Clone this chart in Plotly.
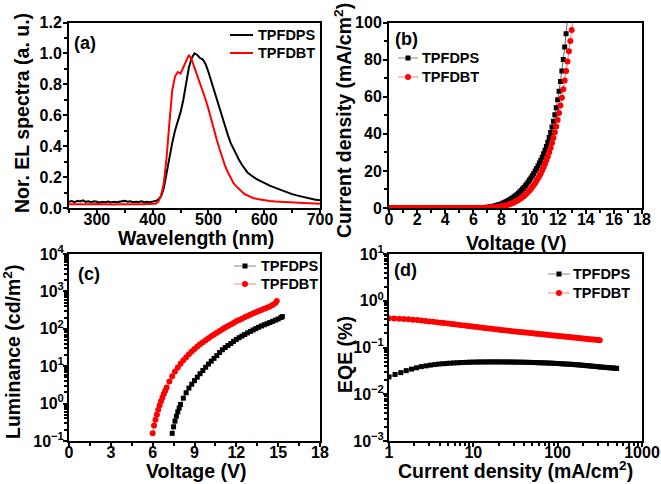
import plotly.graph_objects as go

# ---------------- (a) EL spectra ----------------
wl_dps = [250,255,260,265,270,275,280,285,290,295,300,305,310,315,320,325,330,335,340,345,350,355,360,365,370,375,380,385,390,395,400,405,410,415,420,425,430,435,440,445,450,455,460,465,470,475,480,485,490,495,500,505,510,515,520,525,530,535,540,545,550,555,560,565,570,575,580,585,590,595,600,610,620,630,640,650,660,670,680,690,700]
el_dps = [0.040,0.045,0.038,0.046,0.042,0.050,0.040,0.044,0.037,0.043,0.040,0.036,0.041,0.038,0.042,0.036,0.040,0.037,0.041,0.044,0.046,0.040,0.043,0.038,0.041,0.039,0.044,0.037,0.041,0.038,0.042,0.045,0.055,0.075,0.13,0.23,0.34,0.42,0.50,0.56,0.62,0.70,0.80,0.91,0.97,1.00,0.99,0.97,0.96,0.93,0.88,0.82,0.76,0.70,0.64,0.58,0.52,0.47,0.42,0.38,0.34,0.31,0.28,0.255,0.23,0.215,0.20,0.19,0.18,0.17,0.16,0.145,0.13,0.115,0.10,0.09,0.08,0.07,0.062,0.055,0.05]
wl_dbt = [250,260,270,280,290,300,310,320,330,340,350,360,370,380,390,400,405,410,415,420,425,430,435,440,445,450,455,460,465,470,475,480,485,490,495,500,505,510,515,520,525,530,535,540,545,550,555,560,565,570,575,580,590,600,610,620,640,660,680,700]
el_dbt = [0.025,0.024,0.026,0.023,0.025,0.026,0.024,0.025,0.023,0.025,0.026,0.024,0.025,0.024,0.026,0.025,0.028,0.04,0.08,0.16,0.33,0.55,0.76,0.85,0.88,0.87,0.91,0.95,0.99,0.96,0.91,0.86,0.81,0.76,0.70,0.64,0.57,0.50,0.44,0.38,0.32,0.27,0.23,0.19,0.16,0.14,0.12,0.105,0.09,0.08,0.072,0.065,0.057,0.05,0.045,0.042,0.037,0.034,0.031,0.028]

# ---------------- (b) J-V ----------------
v_b_dps = [0.0,0.2,0.4,0.6,0.8,1.0,1.2,1.4,1.6,1.8,2.0,2.2,2.4,2.6,2.8,3.0,3.2,3.4,3.6,3.8,4.0,4.2,4.4,4.6,4.8,5.0,5.2,5.4,5.6,5.8,6.0,6.2,6.4,6.6,6.8,
           7.0,7.1,7.2,7.3,7.4,7.5,7.6,7.7,7.8,7.9,8.0,8.1,8.2,8.3,8.4,8.5,8.6,8.7,8.8,8.9,9.0,9.1,9.2,9.3,9.4,9.5,9.6,9.7,9.8,9.9,
           10.0,10.1,10.2,10.3,10.4,10.5,10.6,10.7,10.8,10.9,11.0,11.1,11.2,11.3,11.4,11.5,11.6,11.7,11.8,11.9,12.0,12.1,12.2,12.3,12.4,12.5,12.6,12.7]
j_b_dps = [0.02,0.02,0.02,0.02,0.02,0.02,0.02,0.02,0.02,0.02,0.02,0.02,0.02,0.02,0.02,0.02,0.02,0.02,0.02,0.02,0.02,0.02,0.02,0.02,0.02,0.03,0.04,0.05,0.06,0.08,0.10,0.13,0.17,0.22,0.29,
           0.38,0.47,0.58,0.71,0.86,1.03,1.22,1.43,1.66,1.92,2.2,2.5,2.85,3.2,3.6,4.0,4.45,4.95,5.45,6.0,6.6,7.2,7.9,8.6,9.4,10.2,11.1,12.0,13.0,14.0,
           15.1,16.2,17.4,18.6,19.9,21.3,22.7,24.2,25.8,27.4,29.2,31.1,33.2,35.5,38.0,40.7,43.6,46.8,50.3,54.1,58.3,63.0,68.2,73.9,80.1,86.8,94.0,101.7]
v_b_dbt = [0.0,0.2,0.4,0.6,0.8,1.0,1.2,1.4,1.6,1.8,2.0,2.2,2.4,2.6,2.8,3.0,3.2,3.4,3.6,3.8,4.0,4.2,4.4,4.6,4.8,5.0,5.2,5.4,5.6,5.8,6.0,6.2,6.4,6.6,6.8,
           7.0,7.1,7.2,7.3,7.4,7.5,7.6,7.7,7.8,7.9,8.0,8.1,8.2,8.3,8.4,8.5,8.6,8.7,8.8,8.9,9.0,9.1,9.2,9.3,9.4,9.5,9.6,9.7,9.8,9.9,
           10.0,10.1,10.2,10.3,10.4,10.5,10.6,10.7,10.8,10.9,11.0,11.1,11.2,11.3,11.4,11.5,11.6,11.7,11.8,11.9,12.0,12.1,12.2,12.3,12.4,12.5,12.6,12.7,12.8,12.9,13.0,13.1]
j_b_dbt = [0.01,0.01,0.01,0.01,0.01,0.01,0.01,0.01,0.01,0.01,0.01,0.01,0.01,0.01,0.01,0.01,0.01,0.01,0.01,0.01,0.01,0.01,0.01,0.01,0.01,0.015,0.02,0.025,0.03,0.04,0.05,0.06,0.08,0.10,0.12,
           0.15,0.19,0.23,0.28,0.34,0.4,0.48,0.57,0.67,0.78,0.9,1.05,1.2,1.4,1.6,1.85,2.1,2.4,2.7,3.05,3.45,3.85,4.3,4.8,5.3,5.9,6.5,7.2,7.9,8.7,
           9.5,10.4,11.4,12.4,13.5,14.7,16.0,17.3,18.8,20.3,22.0,23.8,25.7,27.8,30.0,32.4,35.0,37.8,40.8,44.0,47.4,51.2,55.2,59.5,64.0,68.7,73.8,79.0,84.5,90.0,96.0,102.0]

# ---------------- (c) L-V ----------------
v_c_dps = [7.4,7.5,7.6,7.7,7.8,7.9,8.0,8.2,8.4,8.6,8.8,9.0,9.2,9.4,9.6,9.8,10.0,10.2,10.4,10.6,10.8,11.0,11.2,11.4,11.6,11.8,12.0,12.2,12.4,12.6,12.8,13.0,13.2,13.4,13.6,13.8,14.0,14.2,14.4,14.6,14.8,15.0,15.2,15.3]
l_c_dps = [0.16,0.24,0.34,0.46,0.6,0.76,0.95,1.4,1.95,2.6,3.3,4.1,5.1,6.3,7.7,9.4,11.4,13.6,16.2,19.2,23.2,27.5,31.5,35.8,40.5,46.0,52,58,64,70.5,77.5,85,93,101,110,119,128,137,147,158,170,183,200,212]
v_c_dbt = [6.0,6.1,6.2,6.3,6.4,6.5,6.6,6.7,6.8,6.9,7.0,7.2,7.4,7.6,7.8,8.0,8.2,8.4,8.6,8.8,9.0,9.2,9.4,9.6,9.8,10.0,10.2,10.4,10.6,10.8,11.0,11.2,11.4,11.6,11.8,12.0,12.2,12.4,12.6,12.8,13.0,13.2,13.4,13.6,13.8,14.0,14.2,14.4,14.6,14.8,14.9]
l_c_dbt = [0.16,0.26,0.37,0.5,0.68,0.9,1.15,1.45,1.8,2.2,2.7,3.9,5.4,7.2,9.3,11.7,14.4,17.4,20.8,24.6,28.8,33.4,38.4,43.8,49.6,56,63,70.5,79,88,98,108,119,131,144,158,172,187,203,220,238,257,277,298,320,343,368,395,430,490,550]

# ---------------- (d) EQE-J ----------------
j_d_dps = [1.0,1.18,1.38,1.6,1.85,2.12,2.42,2.75,3.1,3.5,3.9,4.35,4.8,5.3,5.85,6.4,7.0,7.6,8.3,9.0,
           9.8,10.6,11.5,12.4,13.4,14.5,15.6,16.8,18.1,19.5,21,22.6,24.3,26.1,28,30,32.2,34.5,37,39.6,
           42.4,45.4,48.6,52,55.6,59.4,63.5,67.8,72.4,77.3,82.5,88,94,100,107,114,121,129,137,146,
           155,165,175,186,197,209,222,235,249,264,280,296,313,331,350,370,391,413,436,460,485,500]
eqe_d_dps = [0.0235,0.0265,0.029,0.032,0.0345,0.0368,0.039,0.0405,0.042,0.0432,0.0442,0.045,0.0456,0.0462,0.0467,0.0471,0.0475,0.0478,0.0481,0.0484,
             0.0486,0.0488,0.0489,0.049,0.0491,0.0491,0.0492,0.0492,0.0492,0.0492,0.0491,0.0491,0.049,0.049,0.0489,0.0488,0.0487,0.0486,0.0485,0.0484,
             0.0482,0.0481,0.0479,0.0477,0.0475,0.0473,0.0471,0.0469,0.0467,0.0465,0.0463,0.046,0.0457,0.0454,0.0451,0.0448,0.0445,0.0442,0.0439,0.0436,
             0.0432,0.0428,0.0425,0.0421,0.0417,0.0413,0.0409,0.0405,0.0401,0.0397,0.0393,0.0389,0.0385,0.0381,0.0378,0.0375,0.0372,0.0369,0.0366,0.0363,0.036,0.0358]
j_d_dbt = [1.0,1.15,1.32,1.5,1.7,1.92,2.16,2.42,2.7,3.0,3.35,3.7,4.1,4.5,5.0,5.5,6.0,6.6,7.2,7.9,
           8.6,9.4,10.2,11.1,12.1,13.1,14.2,15.4,16.7,18.1,19.6,21.2,22.9,24.7,26.7,28.8,31,33.4,36,38.7,
           41.6,44.7,48,51.5,55.3,59.3,63.6,68.2,73.1,78.3,83.9,89.8,96,103,110,118,126,135,144,154,
           164,175,187,199,212,226,240,255,270,286,302,316]
eqe_d_dbt = [0.420,0.418,0.414,0.408,0.401,0.394,0.386,0.378,0.370,0.362,0.354,0.347,0.340,0.333,0.326,0.319,0.313,0.307,0.301,0.295,
             0.290,0.284,0.279,0.274,0.269,0.264,0.259,0.255,0.251,0.246,0.242,0.238,0.234,0.231,0.227,0.224,0.221,0.218,0.215,0.212,
             0.209,0.206,0.204,0.201,0.198,0.196,0.193,0.191,0.188,0.186,0.1835,0.181,0.179,0.1766,0.1744,0.1722,0.170,0.1678,0.1658,0.1637,
             0.1618,0.1599,0.1579,0.1561,0.1543,0.1524,0.1507,0.149,0.1474,0.1459,0.1444,0.1431]

names = ["TPFDPS", "TPFDBT"]

FONT = "Liberation Sans, Arial, sans-serif"
W, H = 661, 484

def px(x):
    return x / W

def py(y):
    return 1 - y / H

fig = go.Figure()

fig.add_trace(go.Scatter(x=wl_dps, y=el_dps, mode="lines", name=names[0],
                         line=dict(color="black", width=2), xaxis="x", yaxis="y"))
fig.add_trace(go.Scatter(x=wl_dbt, y=el_dbt, mode="lines", name=names[1],
                         line=dict(color="#ff0000", width=2), xaxis="x", yaxis="y"))

blk_m = dict(symbol="square", size=5, color="black")
red_m = dict(symbol="circle", size=6, color="#ff0000")
blk_l = dict(color="#666666", width=1)
red_l = dict(color="#ff7070", width=1)

fig.add_trace(go.Scatter(x=v_b_dps, y=j_b_dps, mode="lines+markers", name=names[0], marker=blk_m, line=blk_l,
                         xaxis="x2", yaxis="y2"))
fig.add_trace(go.Scatter(x=v_b_dbt, y=j_b_dbt, mode="lines+markers", name=names[1], marker=red_m, line=red_l,
                         xaxis="x2", yaxis="y2"))
fig.add_trace(go.Scatter(x=v_c_dps, y=l_c_dps, mode="lines+markers", name=names[0], marker=blk_m, line=blk_l,
                         xaxis="x3", yaxis="y3"))
fig.add_trace(go.Scatter(x=v_c_dbt, y=l_c_dbt, mode="lines+markers", name=names[1], marker=red_m, line=red_l,
                         xaxis="x3", yaxis="y3"))
fig.add_trace(go.Scatter(x=j_d_dps, y=eqe_d_dps, mode="lines+markers", name=names[0], marker=blk_m, line=blk_l,
                         xaxis="x4", yaxis="y4"))
fig.add_trace(go.Scatter(x=j_d_dbt, y=eqe_d_dbt, mode="lines+markers", name=names[1], marker=red_m, line=red_l,
                         xaxis="x4", yaxis="y4"))

tickfont = dict(family=FONT, size=16, color="black", weight="bold")

def ax(**kw):
    d = dict(showline=True, linecolor="black", linewidth=2, mirror=True,
             ticks="outside", ticklen=4, tickwidth=2, tickcolor="black",
             showgrid=False, zeroline=False, tickfont=tickfont, automargin=False)
    d.update(kw)
    return d

def minor_lin(step):
    return dict(dtick=step, ticks="outside", ticklen=3, tickwidth=1.5, tickcolor="black", showgrid=False)

def log_minor(lo, hi):
    vals = [m * 10 ** e for e in range(lo, hi) for m in range(2, 10)]
    return dict(tickmode="array", tickvals=vals, ticks="outside", ticklen=3, tickwidth=1.5,
                tickcolor="black", showgrid=False)

def pow_text(e):
    return "10<sup>%s</sup>" % ("\u2212%d" % -e if e < 0 else "%d" % e)

left = [px(69), px(320)]
right = [px(389), px(642)]
top = [py(208), py(22.5)]
bot = [py(441), py(254)]

XSO = -8
fig.update_layout(
    width=W, height=H, margin=dict(l=0, r=0, t=0, b=0, autoexpand=False),
    paper_bgcolor="white", plot_bgcolor="white", showlegend=False,
    xaxis=ax(domain=left, anchor="y", range=[250, 700], dtick=100, minor=minor_lin(50), ticklabelstandoff=XSO),
    yaxis=ax(domain=top, anchor="x", range=[0, 1.2], dtick=0.2, tickformat=".1f", minor=minor_lin(0.1),
             ticklabelstandoff=-2),
    xaxis2=ax(domain=right, anchor="y2", range=[0, 18], dtick=2, minor=minor_lin(1), ticklabelstandoff=XSO),
    yaxis2=ax(domain=top, anchor="x2", range=[0, 100], dtick=20, minor=minor_lin(10), ticklabelstandoff=-2),
    xaxis3=ax(domain=left, anchor="y3", range=[0, 18], dtick=3, minor=minor_lin(1.5), ticklabelstandoff=XSO),
    yaxis3=ax(domain=bot, anchor="x3", type="log", range=[-1, 4], tickmode="array",
              tickvals=[10 ** e for e in range(-1, 5)], ticktext=[pow_text(e) for e in range(-1, 5)],
              minor=log_minor(-1, 4), ticklabelstandoff=-4),
    xaxis4=ax(domain=right, anchor="y4", type="log", range=[0, 3], tickmode="array",
              tickvals=[1, 10, 100, 1000], ticktext=["1", "10", "100", "1000"], minor=log_minor(0, 3),
              ticklabelstandoff=XSO),
    yaxis4=ax(domain=bot, anchor="x4", type="log", range=[-3, 1], tickmode="array",
              tickvals=[10 ** e for e in range(-3, 2)], ticktext=[pow_text(e) for e in range(-3, 2)],
              minor=log_minor(-3, 1), ticklabelstandoff=-4),
)

titlefont = dict(family=FONT, size=19.5, color="black", weight="bold")
labfont = dict(family=FONT, size=18, color="black", weight="bold")
legfont = dict(family=FONT, size=14.5, color="black", weight="bold")

def ann(text, x, y, font, angle=0, xanchor="center"):
    fig.add_annotation(text=text, x=px(x), y=py(y), xref="paper", yref="paper",
                       xanchor=xanchor, yanchor="middle", showarrow=False, font=font, textangle=angle)

ann("Wavelength (nm)", 196, 238, titlefont)
ann("Nor. EL spectra (a. u.)", 22, 113, titlefont, -90)
ann("Voltage (V)", 516, 243, titlefont)
ann("Current density (mA/cm<sup>2</sup>)", 343, 121, titlefont, -90)
ann("Voltage (V)", 196, 471, titlefont)
ann("Luminance (cd/m<sup>2</sup>)", 12, 352, titlefont, -90)
ann("Current density (mA/cm<sup>2</sup>)", 515, 470, titlefont)
ann("EQE (%)", 345, 355, titlefont, -90)

ann("(a)", 85, 43, labfont)
ann("(b)", 406, 39, labfont)
ann("(c)", 89, 274, labfont)
ann("(d)", 405, 270, labfont)

def legend_item(x0, x1, y, text_x, label, color, linecolor, lw, marker=None):
    fig.add_shape(type="line", xref="paper", yref="paper", x0=px(x0), x1=px(x1), y0=py(y), y1=py(y),
                  line=dict(color=linecolor, width=lw))
    if marker is not None:
        cx = (x0 + x1) / 2
        if marker == "square":
            fig.add_shape(type="rect", xref="paper", yref="paper", x0=px(cx - 2.5), x1=px(cx + 2.5),
                          y0=py(y + 2.5), y1=py(y - 2.5), fillcolor=color, line=dict(width=0))
        else:
            fig.add_shape(type="circle", xref="paper", yref="paper", x0=px(cx - 3), x1=px(cx + 3),
                          y0=py(y + 3), y1=py(y - 3), fillcolor=color, line=dict(width=0))
    ann(label, text_x, y, legfont, xanchor="left")

legend_item(230, 253, 35, 256, names[0], "black", "black", 2)
legend_item(230, 253, 53, 256, names[1], "red", "red", 2)
legend_item(398, 418, 58, 420, names[0], "black", "#888888", 1, "square")
legend_item(398, 418, 77, 420, names[1], "red", "#ff8080", 1, "circle")
legend_item(234, 256, 266, 259, names[0], "black", "#888888", 1, "square")
legend_item(234, 256, 284, 259, names[1], "red", "#ff8080", 1, "circle")
legend_item(548, 570, 274, 571, names[0], "black", "#888888", 1, "square")
legend_item(548, 570, 293, 571, names[1], "red", "#ff8080", 1, "circle")

fig.write_html("out.html")
